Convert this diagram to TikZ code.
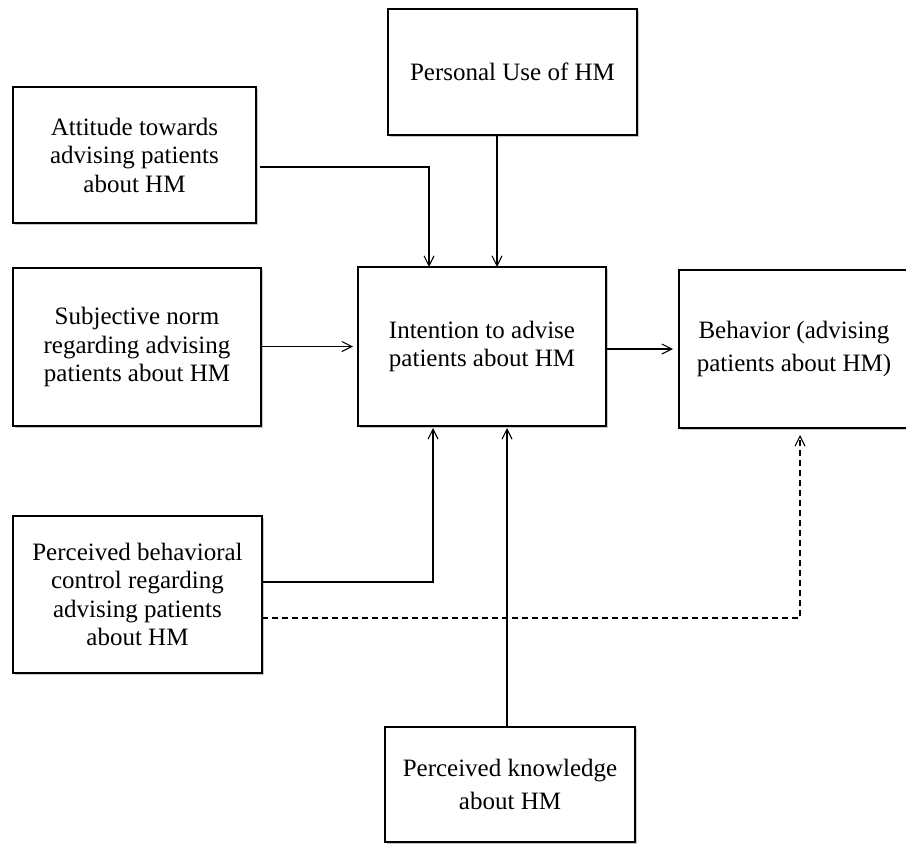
\documentclass[tikz,border=0pt]{standalone}
\usepackage{fontspec}
\setmainfont{Liberation Serif}
\usetikzlibrary{arrows.meta,shadows}
\tikzset{
  boxnode/.style={draw=black, line width=1.4pt, fill=white, rectangle, inner sep=0pt, outer sep=0pt,
    align=center, font=\fontsize{25}{28.5}\selectfont,
    drop shadow={shadow xshift=2pt, shadow yshift=-2pt, fill=black, opacity=0.22}},
  widebox/.style={boxnode, font=\fontsize{25}{32.5}\selectfont},
  arr/.style={line width=1.1pt, -{Straight Barb[length=10pt,width=10pt,line width=1.1pt]}},
  dasharr/.style={arr, dash pattern=on 6pt off 4pt}
}
\begin{document}
\begin{tikzpicture}[x=1pt,y=-1pt]
\useasboundingbox (0,0) rectangle (906,844);
\node[boxnode, minimum width=249pt, minimum height=126pt] (pers) at (512.5,72) {Personal Use of HM};
\node[boxnode, minimum width=243pt, minimum height=136pt] (att) at (134.5,155) {Attitude towards\\advising patients\\about HM};
\node[boxnode, minimum width=248pt, minimum height=158pt] (subj) at (137,347) {Subjective norm\\regarding advising\\patients about HM};
\node[boxnode, minimum width=248pt, minimum height=159pt] (int) at (482,346.5) {Intention to advise\\patients about HM};
\node[widebox, minimum width=230pt, minimum height=158pt] (beh) at (794,349) {Behavior (advising\\patients about HM)};
\node[boxnode, minimum width=249pt, minimum height=157pt] (pbc) at (137.5,594.5) {Perceived behavioral\\control regarding\\advising patients\\about HM};
\node[widebox, minimum width=250pt, minimum height=115pt] (know) at (510,784.5) {Perceived knowledge\\about HM};

\draw[arr] ([xshift=4pt,yshift=-12pt]att.east) -| ([xshift=-53pt]int.north);
\draw[arr] ([xshift=-15.5pt]pers.south) -- ([xshift=-15.5pt]pers.south |- int.north);
\draw[arr, shorten >=5pt] (subj.east |- int.west) -- (int.west);
\draw[arr, shorten >=6pt] (int.east |- beh.west) -- (beh.west);
\draw[arr, shorten >=2pt] ([yshift=12.5pt]pbc.east) -| ([xshift=-49pt]int.south);
\draw[arr, shorten >=2pt] ([xshift=-3pt]know.north) -- ([xshift=-3pt]know.north |- int.south);
\draw[dasharr, shorten >=7pt] ([yshift=-23.5pt]pbc.east) -| ([xshift=6pt]beh.south);
\end{tikzpicture}
\end{document}
